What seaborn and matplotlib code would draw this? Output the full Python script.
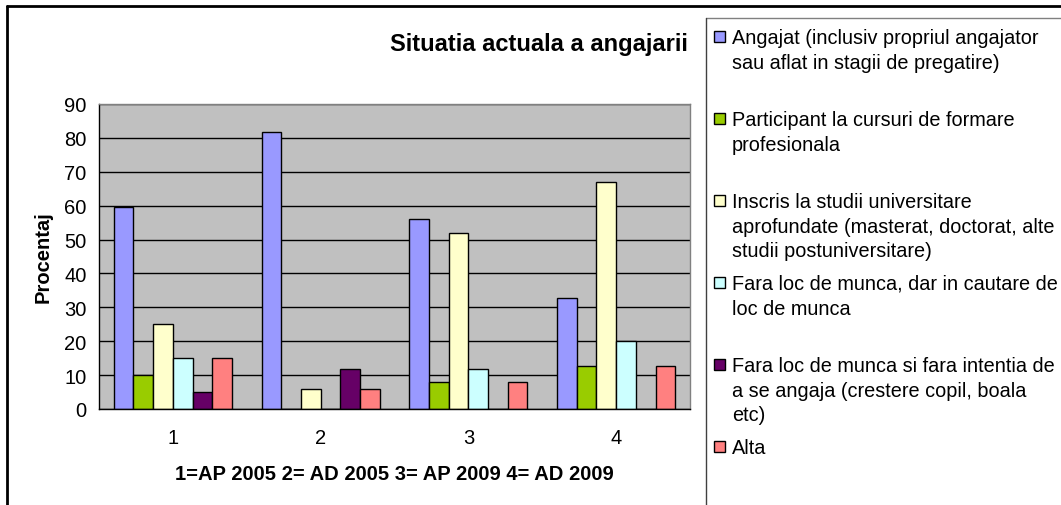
import matplotlib
matplotlib.use("Agg")
import matplotlib.pyplot as plt
from matplotlib.lines import Line2D
from matplotlib.patches import Rectangle
import seaborn as sns
import pandas as pd

sns.set_theme(style="white")
plt.rcParams["font.family"] = ["Liberation Sans", "DejaVu Sans"]
plt.rcParams["text.color"] = "black"
plt.rcParams["axes.labelcolor"] = "black"
plt.rcParams["xtick.color"] = "black"
plt.rcParams["ytick.color"] = "black"

# ---------------------------------------------------------------------------
# Data
# ---------------------------------------------------------------------------
groups = ["1", "2", "3", "4"]
angajat = [59.6, 81.7, 56.0, 32.7]
participant = [10.0, 0.0, 8.0, 12.8]
inscris = [25.0, 5.9, 51.9, 67.0]
fara_cautare = [15.0, 0.0, 11.8, 20.0]
fara_intentie = [5.0, 11.8, 0.0, 0.0]
alta = [15.0, 5.9, 8.0, 12.8]

categories = [
    "Angajat (inclusiv propriul angajator\nsau aflat in stagii de pregatire)",
    "Participant la cursuri de formare\nprofesionala",
    "Inscris la studii universitare\naprofundate (masterat, doctorat, alte\nstudii postuniversitare)",
    "Fara loc de munca, dar in cautare de\nloc de munca",
    "Fara loc de munca si fara intentia de\na se angaja (crestere copil, boala\netc)",
    "Alta",
]
colors = ["#9999FF", "#99CC00", "#FFFFCC", "#CCFFFF", "#660066", "#FF8080"]
series = [angajat, participant, inscris, fara_cautare, fara_intentie, alta]

df = pd.DataFrame(
    [(g, cat, v) for cat, vals in zip(categories, series) for g, v in zip(groups, vals)],
    columns=["grup", "categorie", "procent"],
)

W, H = 1061, 506
fig = plt.figure(figsize=(W / 100, H / 100), dpi=100)


def px(x, y):
    return x / W, 1 - y / H


ax = fig.add_axes([99 / W, (H - 410) / H, 591 / W, 305 / H])
ax.set_facecolor("#C0C0C0")

sns.barplot(data=df, x="grup", y="procent", hue="categorie", hue_order=categories,
            palette=colors, width=0.8, edgecolor="black", linewidth=1,
            saturation=1, legend=False, ax=ax)

ax.set_ylim(0, 90)
ax.set_xlim(-0.5, 3.5)
ax.set_yticks(range(0, 91, 10))
ax.yaxis.grid(True, color="black", linewidth=1)
ax.set_axisbelow(True)
ax.set_xticks(range(4))
ax.set_xticks([i - 0.5 for i in range(5)], minor=True)
ax.tick_params(axis="x", which="major", length=0, pad=14, labelsize=14.5)
ax.tick_params(axis="x", which="minor", length=5, width=1, color="black", direction="out")
ax.tick_params(axis="y", length=5, width=1, color="black", direction="out", pad=4, labelsize=14.5)
for side in ("left", "bottom"):
    ax.spines[side].set_color("black")
    ax.spines[side].set_linewidth(1)
for side in ("top", "right"):
    ax.spines[side].set_color("#808080")
    ax.spines[side].set_linewidth(1)

ax.set_xlabel("1=AP 2005 2= AD 2005 3= AP 2009 4= AD 2009", fontsize=14.5,
              fontweight="bold", labelpad=12)
ax.set_ylabel("Procentaj", fontsize=14.5, fontweight="bold", labelpad=8)

fig.text(*px(539, 45), "Situatia actuala a angajarii", fontsize=17,
         fontweight="bold", ha="center", va="center")

# outer frame (top + left) and legend box
fig.add_artist(Line2D([7 / W, 1], [1 - 7 / H] * 2, color="black", linewidth=2))
fig.add_artist(Line2D([7 / W] * 2, [0, 1 - 7 / H], color="black", linewidth=2))
fig.add_artist(Line2D([706 / W, 1], [1 - 19 / H] * 2, color="#808080", linewidth=1))
fig.add_artist(Line2D([706 / W] * 2, [0, 1 - 19 / H], color="#404040", linewidth=1))

# legend entries in equal slots, as in the original
for i, (label, color) in enumerate(zip(categories, colors)):
    y = 37 + i * 82
    fig.add_artist(Rectangle(px(714, y + 6), 11 / W, 11 / H, facecolor=color,
                             edgecolor="black", linewidth=1, transform=fig.transFigure))
    fig.text(*px(732, y - 8), label, fontsize=14.3, ha="left", va="top",
             linespacing=1.38)

fig.savefig("out.png", dpi=100)
